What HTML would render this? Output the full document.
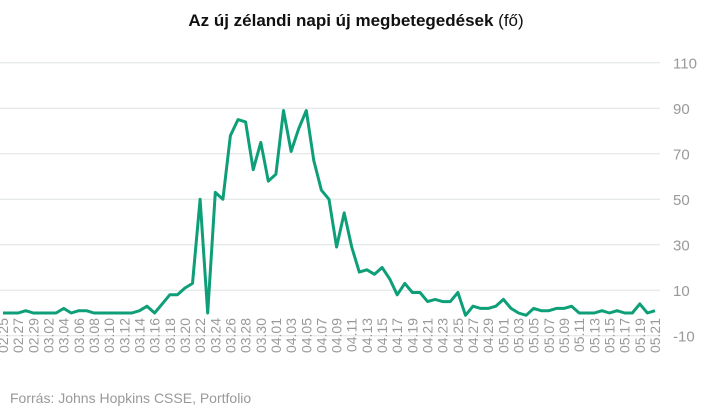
<!DOCTYPE html>
<html><head><meta charset="utf-8">
<style>
body{margin:0;background:#fff;font-family:"Liberation Sans",sans-serif;}
svg{display:block}
</style></head>
<body>
<svg width="712" height="410">
<text x="356" y="26" text-anchor="middle" font-size="17" font-weight="bold" fill="#111">Az új zélandi napi új megbetegedések <tspan font-weight="normal">(fő)</tspan></text>
<g id="grid"></g><g id="xl"></g>
<path id="line" fill="none" stroke="#0f9f78" stroke-width="3" stroke-linejoin="round"/>
<text x="10" y="403" font-size="14" fill="#999">Forrás: Johns Hopkins CSSE, Portfolio</text>
</svg>
<script>
const yTicks=[110,90,70,50,30,10,-10];
const startDate=[2,25];
const values=[0,0,0,1,0,
0,0,0,2,0,1,1,0,0,0,0,0,0,1,3,0,4,8,8,11,13,50,0,53,50,78,85,84,63,75,58,
61,89,71,81,89,67,54,50,29,44,29,18,19,17,20,15,8,13,9,9,5,6,5,5,9,-1,3,2,2,3,
6,2,0,-1,2,1,1,2,2,3,0,0,0,1,0,1,0,0,4,0,1];
const NS="http://www.w3.org/2000/svg";
const x0=3,x1=655,n=values.length;
const X=i=>x0+(x1-x0)*i/(n-1);
const Y=v=>313-v*2.275;
const grid=document.getElementById('grid');
yTicks.forEach(t=>{
 const l=document.createElementNS(NS,'line');
 l.setAttribute('x1',0);l.setAttribute('x2',660);l.setAttribute('y1',Y(t));l.setAttribute('y2',Y(t));
 l.setAttribute('stroke','#dde3e3');l.setAttribute('stroke-width','1');
 
 
 grid.appendChild(l);
 const tx=document.createElementNS(NS,'text');
 tx.setAttribute('x',673);tx.setAttribute('y',Y(t)+5.5);tx.setAttribute('font-size','15');tx.setAttribute('fill','#999');
 tx.textContent=t;
 
 
 grid.appendChild(tx);
});
const dim=[0,31,29,31,30,31];
const xl=document.getElementById('xl');
let m=startDate[0],d=startDate[1];
for(let i=0;i<n;i++){
 if(i%2===0){
  const tx=document.createElementNS(NS,'text');
  const px=X(i)+5;
  tx.setAttribute('transform','translate('+px+',318) rotate(-90)');
  tx.setAttribute('text-anchor','end');tx.setAttribute('font-size','14');tx.setAttribute('fill','#999');
  tx.textContent=String(m).padStart(2,'0')+'.'+String(d).padStart(2,'0');
  
  
  xl.appendChild(tx);
 }
 d++; if(d>dim[m]){d=1;m++;}
}
document.getElementById('line').setAttribute('d',values.map((v,i)=>(i?'L':'M')+X(i).toFixed(1)+' '+Y(v).toFixed(1)).join(''));
</script>
</body></html>
